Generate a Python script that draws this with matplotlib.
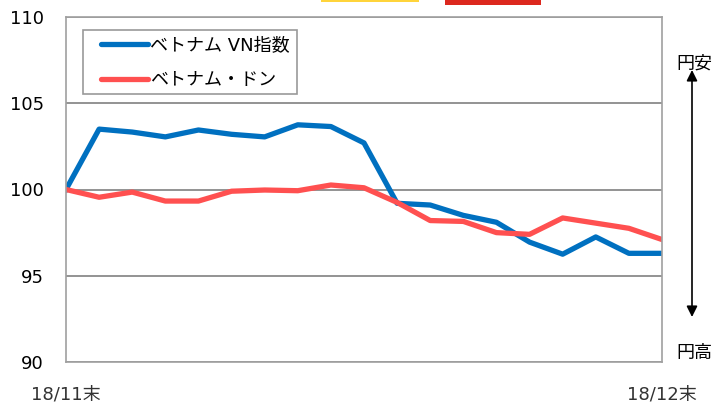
import matplotlib.pyplot as plt
from matplotlib.patches import Rectangle
import numpy as np

plt.rcParams['font.family'] = ['DejaVu Sans', 'Noto Sans CJK JP']

# 2018/11末 = 100 として指数化（営業日ベース）
vn_index = [100.0, 103.5, 103.33, 103.05, 103.45, 103.2, 103.05, 103.75, 103.65,
            102.7, 99.2, 99.1, 98.5, 98.1, 96.95, 96.25, 97.25, 96.3, 96.3]
dong = [100.0, 99.55, 99.85, 99.33, 99.33, 99.9, 99.97, 99.93, 100.26,
        100.1, 99.25, 98.2, 98.15, 97.5, 97.4, 98.35, 98.05, 97.75, 97.1]
series_names = ["ベトナム VN指数", "ベトナム・ドン"]
x_labels = ["18/11末", "18/12末"]
y_ticks = [90, 95, 100, 105, 110]

W, H = 714, 405
fig = plt.figure(figsize=(W / 100, H / 100), dpi=100)
ax = fig.add_axes([66 / W, 1 - 362 / H, (662 - 66) / W, (362 - 17) / H])

x = np.arange(len(vn_index))
ax.plot(x, vn_index, color="#0070C0", lw=3.8, label=series_names[0], solid_joinstyle="round")
ax.plot(x, dong, color="#FF5050", lw=3.8, label=series_names[1], solid_joinstyle="round")

ax.set_xlim(0, len(x) - 1)
ax.set_ylim(90, 110)
ax.set_yticks(y_ticks)
ax.set_yticklabels([str(v) for v in y_ticks], fontsize=13)
ax.set_xticks([0, len(x) - 1])
ax.set_xticklabels(x_labels, fontsize=13, color="#333333")
ax.tick_params(axis="x", length=0, pad=17)
ax.tick_params(axis="y", length=0, pad=16)
ax.yaxis.grid(True, color="#808080", lw=1.2)
ax.set_axisbelow(True)
for s in ax.spines.values():
    s.set_color("#A0A0A0")
    s.set_linewidth(1.2)

# 凡例（枠は別に描く）
leg = ax.legend(loc="upper left", bbox_to_anchor=(101 / W, 1 - 36 / H),
                bbox_transform=fig.transFigure, borderaxespad=0, borderpad=0,
                fontsize=13, handlelength=2.6, handletextpad=0.1,
                labelspacing=0.96, frameon=False)
leg.set_zorder(5)
for h in leg.get_lines():
    h.set_solid_capstyle("round")
ax.add_patch(Rectangle((83 / W, 1 - 94 / H), 214 / W, 64 / H, transform=fig.transFigure,
                       facecolor="white", edgecolor="#999999", lw=1.2, zorder=4,
                       clip_on=False))

# 円安・円高の矢印
fig.text(694 / W, 1 - 64 / H, "円安", ha="center", va="center", fontsize=13)
fig.text(694 / W, 1 - 353 / H, "円高", ha="center", va="center", fontsize=13)
ax.annotate("", xy=(692 / W, 1 - 70 / H), xytext=(692 / W, 1 - 317 / H),
            xycoords="figure fraction",
            arrowprops=dict(arrowstyle="<|-|>", color="black", lw=1.2,
                            mutation_scale=16, shrinkA=0, shrinkB=0))

# 上部の切れた色帯
fig.add_artist(Rectangle((321 / W, 1 - 2 / H), 98 / W, 2 / H, transform=fig.transFigure,
                         color="#FFD43B", lw=0))
fig.add_artist(Rectangle((445 / W, 1 - 5 / H), 96 / W, 5 / H, transform=fig.transFigure,
                         color="#DC281E", lw=0))

fig.savefig("out.png", dpi=100)
